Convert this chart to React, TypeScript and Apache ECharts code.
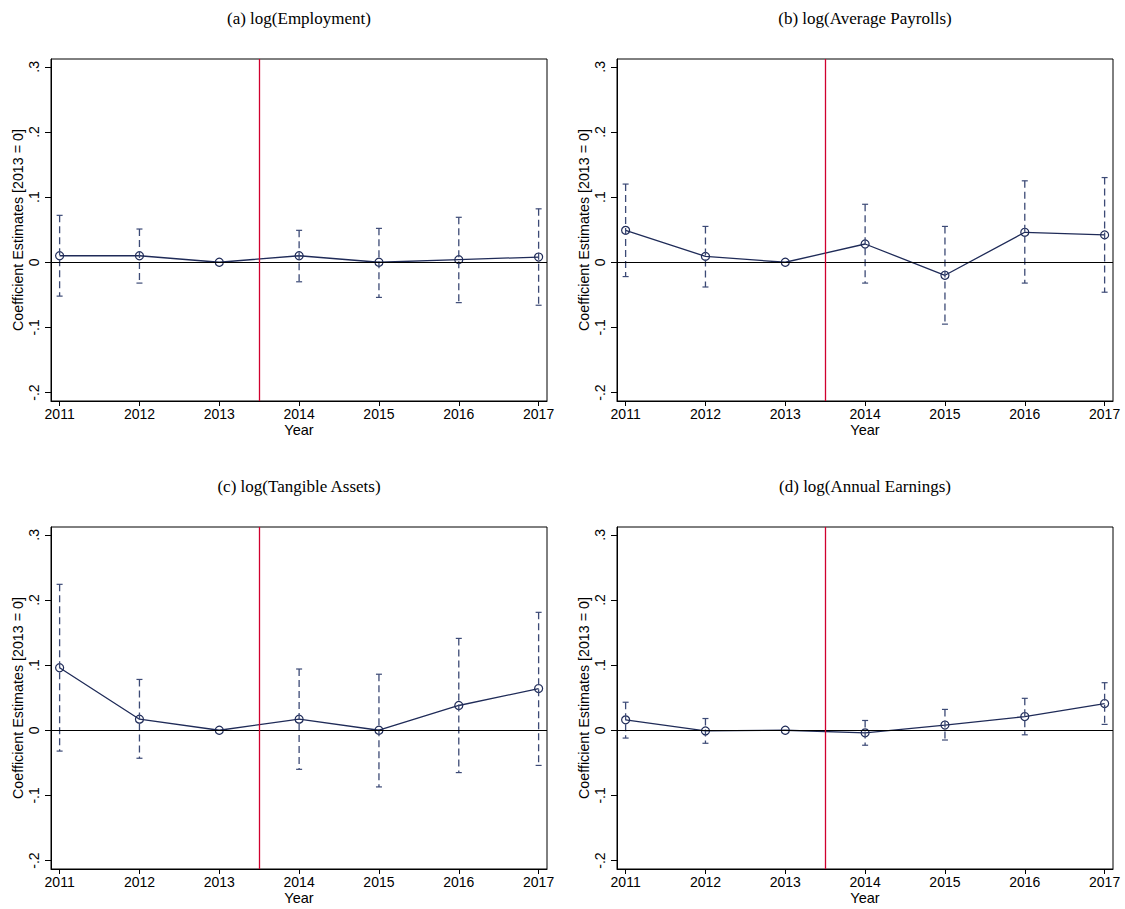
import React, { useEffect, useRef } from "react";
import * as echarts from "echarts";

const years = [2011, 2012, 2013, 2014, 2015, 2016, 2017];
const yTickValues = [-0.2, -0.1, 0, 0.1, 0.2, 0.3];
const eventYear = 2013.5;

const titles = [
  "(a) log(Employment)",
  "(b) log(Average Payrolls)",
  "(c) log(Tangible Assets)",
  "(d) log(Annual Earnings)",
];

// coefficient estimates
const employmentCoef = [0.01, 0.01, 0, 0.01, 0.0, 0.004, 0.008];
const employmentLow = [-0.052, -0.032, null, -0.03, -0.054, -0.062, -0.066];
const employmentHigh = [0.072, 0.051, null, 0.049, 0.052, 0.069, 0.082];

const payrollsCoef = [0.049, 0.009, 0, 0.028, -0.02, 0.046, 0.042];
const payrollsLow = [-0.022, -0.038, null, -0.032, -0.095, -0.032, -0.046];
const payrollsHigh = [0.12, 0.055, null, 0.089, 0.055, 0.125, 0.13];

const assetsCoef = [0.096, 0.017, 0, 0.017, 0.0, 0.038, 0.064];
const assetsLow = [-0.032, -0.043, null, -0.06, -0.087, -0.065, -0.054];
const assetsHigh = [0.224, 0.078, null, 0.094, 0.086, 0.141, 0.181];

const earningsCoef = [0.016, -0.001, 0, -0.004, 0.008, 0.021, 0.041];
const earningsLow = [-0.012, -0.02, null, -0.023, -0.015, -0.007, 0.009];
const earningsHigh = [0.043, 0.018, null, 0.015, 0.032, 0.049, 0.073];

const panels = [
  { coef: employmentCoef, low: employmentLow, high: employmentHigh },
  { coef: payrollsCoef, low: payrollsLow, high: payrollsHigh },
  { coef: assetsCoef, low: assetsLow, high: assetsHigh },
  { coef: earningsCoef, low: earningsLow, high: earningsHigh },
];

const gridPos = [
  { left: 51, top: 59 },
  { left: 617, top: 59 },
  { left: 51, top: 527 },
  { left: 617, top: 527 },
];
const GRID_W = 496;
const GRID_H = 342;

const NAVY = "#1f2b58";
const BAR = "#3c4a76";
const RED = "#d0002e";
const SANS = "'Liberation Sans', Arial, sans-serif";
const SERIF = "'Liberation Serif', 'Times New Roman', serif";

function fmtY(v: number) {
  const s = Math.abs(v) < 1e-9 ? "0" : v.toFixed(1);
  return s.replace(/^(-?)0\./, "$1.");
}

export default function App() {
  const ref = useRef<HTMLDivElement>(null);
  useEffect(() => {
    if (!ref.current) return;
    const chart = echarts.init(ref.current, undefined, { renderer: "svg" });

    const grid = gridPos.map((g) => ({
      left: g.left,
      top: g.top,
      width: GRID_W,
      height: GRID_H,
      show: true,
      borderColor: "#000",
      borderWidth: 1,
      backgroundColor: "#fff",
    }));

    const xAxis = gridPos.map((_, i) => ({
      type: "value",
      gridIndex: i,
      min: 2010.892,
      max: 2017.105,
      name: "Year",
      nameLocation: "middle",
      nameGap: 21,
      nameTextStyle: { fontFamily: SANS, fontSize: 14.5, color: "#000" },
      axisLine: { show: true, onZero: false, lineStyle: { color: "#000", width: 1 } },
      axisTick: { show: true, length: 5, customValues: years, lineStyle: { color: "#000" } },
      axisLabel: {
        customValues: years,
        margin: 6,
        fontFamily: SANS,
        fontSize: 14,
        color: "#000",
        formatter: (v: number) => String(Math.round(v)),
      },
      splitLine: { show: false },
    }));

    const yAxis = gridPos.map((_, i) => ({
      type: "value",
      gridIndex: i,
      min: -0.213,
      max: 0.312,
      name: "Coefficient Estimates [2013 = 0]",
      nameLocation: "middle",
      nameGap: 26,
      nameTextStyle: { fontFamily: SANS, fontSize: 14.3, color: "#000" },
      axisLine: { show: true, onZero: false, lineStyle: { color: "#000", width: 1 } },
      axisTick: { show: true, length: 6, customValues: yTickValues, lineStyle: { color: "#000" } },
      axisLabel: {
        customValues: yTickValues,
        rotate: 90,
        margin: 10,
        fontFamily: SANS,
        fontSize: 14,
        color: "#000",
        formatter: (v: number) => fmtY(v),
      },
      splitLine: { show: false },
    }));

    const series: any[] = [];
    panels.forEach((p, i) => {
      series.push({
        type: "line",
        xAxisIndex: i,
        yAxisIndex: i,
        data: years.map((y, k) => [y, p.coef[k]]),
        symbol: "circle",
        symbolSize: 8,
        showSymbol: true,
        lineStyle: { color: NAVY, width: 1.3 },
        itemStyle: { color: "rgba(0,0,0,0)", borderColor: NAVY, borderWidth: 1.2 },
        z: 3,
        silent: true,
        markLine: {
          silent: true,
          symbol: ["none", "none"],
          label: { show: false },
          data: [
            { yAxis: 0, lineStyle: { color: "#000", width: 1, type: "solid" } },
            { xAxis: eventYear, lineStyle: { color: RED, width: 1.3, type: "solid" } },
          ],
        },
      });
      const barData = years
        .map((y, k) => [y, p.low[k], p.high[k]])
        .filter((d) => d[1] !== null && d[2] !== null);
      series.push({
        type: "custom",
        xAxisIndex: i,
        yAxisIndex: i,
        data: barData,
        encode: { x: 0, y: [1, 2] },
        silent: true,
        z: 4,
        renderItem: (params: any, api: any) => {
          const x = api.value(0);
          const lo = api.value(1);
          const hi = api.value(2);
          const top = api.coord([x, hi]);
          const bot = api.coord([x, lo]);
          const hw = 3;
          const st = { stroke: BAR, lineWidth: 1.2 };
          return {
            type: "group",
            children: [
              {
                type: "line",
                shape: { x1: top[0], y1: top[1], x2: bot[0], y2: bot[1] },
                style: { stroke: BAR, lineWidth: 1.3, lineDash: [7, 4] },
              },
              {
                type: "line",
                shape: { x1: top[0] - hw, y1: top[1], x2: top[0] + hw, y2: top[1] },
                style: st,
              },
              {
                type: "line",
                shape: { x1: bot[0] - hw, y1: bot[1], x2: bot[0] + hw, y2: bot[1] },
                style: st,
              },
            ],
          };
        },
      });
    });

    const graphic = titles.map((t, i) => ({
      type: "text",
      x: gridPos[i].left + GRID_W / 2,
      y: gridPos[i].top - 41,
      style: {
        text: t,
        textAlign: "center",
        textVerticalAlign: "middle",
        font: `17px ${SERIF}`,
        fill: "#000",
      },
    }));

    chart.setOption({
      animation: false,
      backgroundColor: "#fff",
      grid,
      xAxis,
      yAxis,
      series,
      graphic,
    } as any);
    return () => chart.dispose();
  }, []);

  return (
    <div
      ref={ref}
      style={{ position: "fixed", left: 0, top: 0, width: 1125, height: 909, background: "#fff" }}
    />
  );
}
